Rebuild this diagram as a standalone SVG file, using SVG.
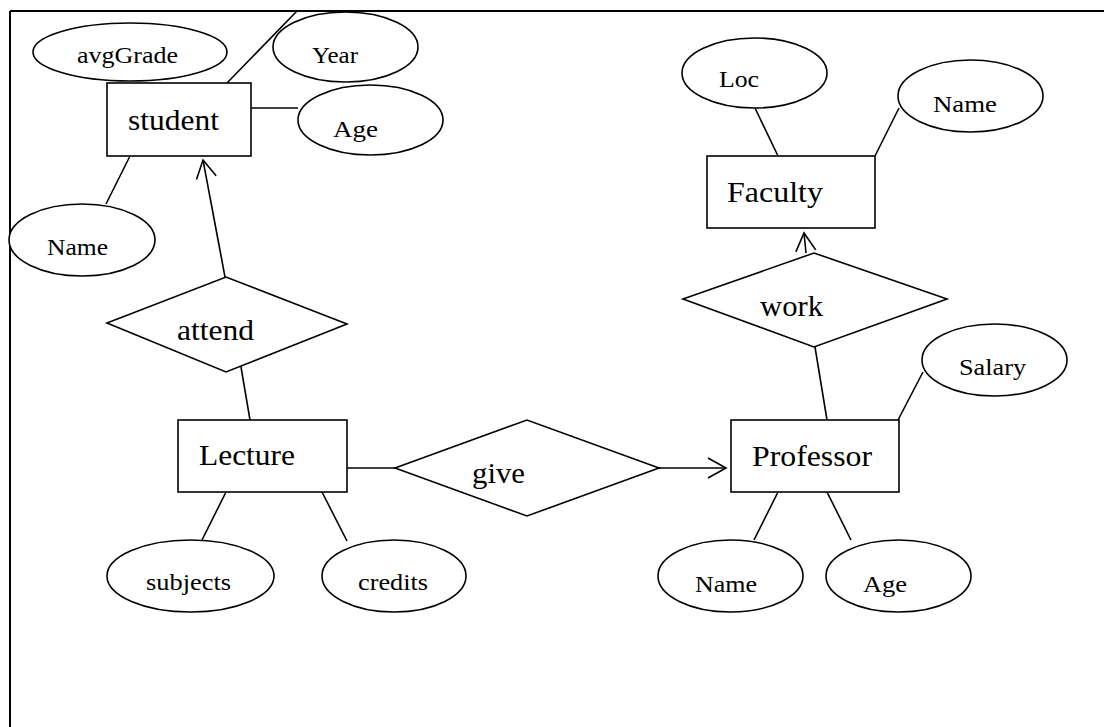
<svg xmlns="http://www.w3.org/2000/svg" width="1104" height="727" viewBox="0 0 1104 727">
<defs>
<style>
.s{fill:#fff;stroke:#000;stroke-width:1.6}
.c{fill:none;stroke:#000;stroke-width:1.6}
.t{font-family:"Liberation Serif","Times New Roman",serif;font-size:24px;fill:#000}
.T{font-family:"Liberation Serif","Times New Roman",serif;font-size:30px;fill:#000}
</style>
<marker id="arr" markerUnits="userSpaceOnUse" viewBox="-20 -12 22 24" markerWidth="22" markerHeight="24" refX="0" refY="0" orient="auto">
<path d="M-18,-10 L0,0 L-18,10" fill="none" stroke="#000" stroke-width="1.6"/>
</marker>
</defs>
<rect width="1104" height="727" fill="#fff"/>
<g id="frame">
<line x1="10" y1="11" x2="1104" y2="11" stroke="#000" stroke-width="2"/>
<line x1="10" y1="11" x2="10" y2="727" stroke="#000" stroke-width="2"/>
</g>
<g id="connectors">
<line class="c" x1="227" y1="83" x2="297" y2="11"/>
<line class="c" x1="251" y1="108" x2="298" y2="108"/>
<line class="c" x1="130" y1="156" x2="106" y2="204"/>
<line class="c" x1="225" y1="277" x2="203" y2="160" marker-end="url(#arr)"/>
<line class="c" x1="241" y1="367" x2="250" y2="420"/>
<line class="c" x1="347" y1="468" x2="395" y2="468"/>
<line class="c" x1="659" y1="468" x2="726" y2="468" marker-end="url(#arr)"/>
<line class="c" x1="226" y1="492" x2="202" y2="540"/>
<line class="c" x1="322" y1="492" x2="347" y2="541"/>
<line class="c" x1="806" y1="253" x2="804" y2="233" marker-end="url(#arr)"/>
<line class="c" x1="755" y1="108" x2="778" y2="156"/>
<line class="c" x1="899" y1="108" x2="875" y2="156"/>
<line class="c" x1="815" y1="347" x2="827" y2="420"/>
<line class="c" x1="923" y1="372" x2="898" y2="420"/>
<line class="c" x1="778" y1="492" x2="754" y2="540"/>
<line class="c" x1="827" y1="492" x2="851" y2="540"/>
</g>
<g id="avgGrade"><ellipse class="s" cx="130" cy="52" rx="97" ry="29"/><text class="t" x="77" y="63" textLength="101" lengthAdjust="spacingAndGlyphs">avgGrade</text></g>
<g id="student-year"><ellipse class="s" cx="345.5" cy="47" rx="72.5" ry="35"/><text class="t" x="312" y="63" textLength="46" lengthAdjust="spacingAndGlyphs">Year</text></g>
<g id="student"><rect class="s" x="107" y="83" width="144" height="73"/><text class="T" x="128" y="130" textLength="91" lengthAdjust="spacingAndGlyphs">student</text></g>
<g id="student-age"><ellipse class="s" cx="370.5" cy="120" rx="72.5" ry="35"/><text class="t" x="333" y="137" textLength="45" lengthAdjust="spacingAndGlyphs">Age</text></g>
<g id="student-name"><ellipse class="s" cx="82" cy="240" rx="73" ry="36"/><text class="t" x="47" y="255" textLength="61" lengthAdjust="spacingAndGlyphs">Name</text></g>
<g id="attend"><polygon class="s" points="107,323 226,277 347,324 226,372"/><text class="T" x="177" y="340" textLength="77" lengthAdjust="spacingAndGlyphs">attend</text></g>
<g id="lecture"><rect class="s" x="178" y="420" width="169" height="72"/><text class="T" x="199" y="465" textLength="96" lengthAdjust="spacingAndGlyphs">Lecture</text></g>
<g id="give"><polygon class="s" points="395,468 527,420 659,468 527,516"/><text class="T" x="472" y="483" textLength="53" lengthAdjust="spacingAndGlyphs">give</text></g>
<g id="subjects"><ellipse class="s" cx="190.5" cy="576" rx="83.5" ry="36"/><text class="t" x="146" y="590" textLength="85" lengthAdjust="spacingAndGlyphs">subjects</text></g>
<g id="credits"><ellipse class="s" cx="394" cy="576" rx="72" ry="36"/><text class="t" x="358" y="590" textLength="70" lengthAdjust="spacingAndGlyphs">credits</text></g>
<g id="faculty-loc"><ellipse class="s" cx="754.5" cy="73" rx="72.5" ry="35"/><text class="t" x="719" y="87" textLength="40" lengthAdjust="spacingAndGlyphs">Loc</text></g>
<g id="faculty-name"><ellipse class="s" cx="970.5" cy="96" rx="72.5" ry="36"/><text class="t" x="933" y="112" textLength="64" lengthAdjust="spacingAndGlyphs">Name</text></g>
<g id="faculty"><rect class="s" x="707" y="156" width="168" height="72"/><text class="T" x="727" y="202" textLength="96" lengthAdjust="spacingAndGlyphs">Faculty</text></g>
<g id="work"><polygon class="s" points="683,299 814,253 947,299 814,347"/><text class="T" x="760" y="316" textLength="63" lengthAdjust="spacingAndGlyphs">work</text></g>
<g id="salary"><ellipse class="s" cx="994.5" cy="360" rx="72.5" ry="36"/><text class="t" x="959" y="375" textLength="67" lengthAdjust="spacingAndGlyphs">Salary</text></g>
<g id="professor"><rect class="s" x="731" y="420" width="168" height="72"/><text class="T" x="752" y="466" textLength="120" lengthAdjust="spacingAndGlyphs">Professor</text></g>
<g id="prof-name"><ellipse class="s" cx="730.5" cy="576" rx="72.5" ry="36"/><text class="t" x="695" y="592" textLength="62" lengthAdjust="spacingAndGlyphs">Name</text></g>
<g id="prof-age"><ellipse class="s" cx="898.5" cy="576" rx="72.5" ry="36"/><text class="t" x="863" y="592" textLength="44" lengthAdjust="spacingAndGlyphs">Age</text></g>
</svg>
